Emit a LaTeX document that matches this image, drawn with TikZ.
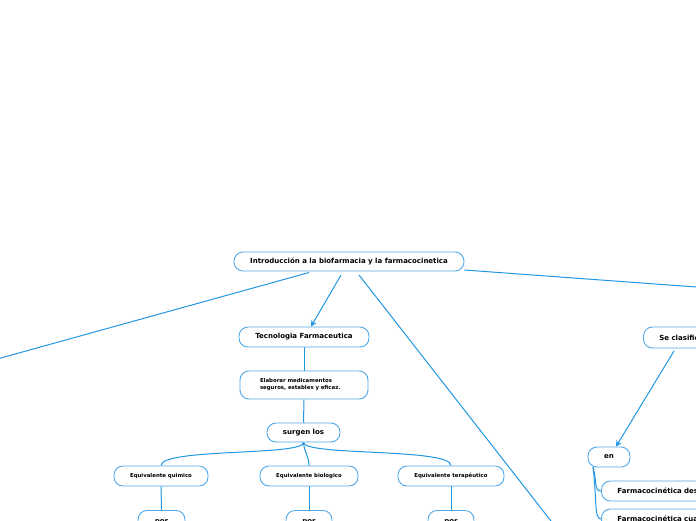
\documentclass[tikz,border=0pt]{standalone}
\usepackage{fontspec}
\setmainfont{DejaVu Sans}
\usetikzlibrary{arrows.meta,backgrounds}
\definecolor{lineblue}{RGB}{33,150,226}
\definecolor{boxblue}{RGB}{80,168,232}
\tikzset{
  box/.style={draw=boxblue, line width=0.9pt, fill=white, rounded corners=9pt, inner sep=0pt, font=\bfseries\fontsize{7}{8}\selectfont, text=black},
  smallbox/.style={box, font=\bfseries\fontsize{5.4}{7}\selectfont},
  leftbox/.style={box, anchor=west, align=left, inner xsep=16pt, text width=130pt},
  conn/.style={draw=lineblue, line width=1pt},
  arr/.style={conn, -{Stealth[length=6pt,width=6pt]}},
}
\begin{document}
\begin{tikzpicture}[x=1pt,y=-1pt]
\useasboundingbox (0,0) rectangle (696,520);
\clip (0,0) rectangle (696,520);
\coordinate (offL) at (-10,361);
\coordinate (offR) at (710,288);
\coordinate (offD) at (558,530);
\node[box, minimum width=230pt, minimum height=19pt] (root) at (349,261.5) {Introducción a la biofarmacia y la farmacocinetica};
\node[box, minimum width=130pt, minimum height=20pt] (tec) at (304,337) {Tecnologia Farmaceutica};
\node[smallbox, minimum height=28pt, align=left, inner xsep=20pt, text width=88pt] (ela) at (304,385) {Elaborar medicamentos\\seguros, estables y eficaz.};
\node[box, minimum width=73pt, minimum height=19pt] (sur) at (303.5,432.5) {surgen los};
\node[smallbox, minimum width=94pt, minimum height=20pt] (eq1) at (161,476) {Equivalente quimico};
\node[smallbox, minimum width=98pt, minimum height=20pt] (eq2) at (309,476) {Equivalente biologico};
\node[smallbox, minimum width=106pt, minimum height=20pt] (eq3) at (451,476) {Equivalente terapéutico};
\node[box, minimum width=47pt, minimum height=24pt] (por1) at (161.5,522.5) {por};
\node[box, minimum width=46pt, minimum height=24pt] (por2) at (309,522.5) {por};
\node[box, minimum width=46pt, minimum height=24pt] (por3) at (451,522.5) {por};
\node[leftbox, minimum height=21pt] (sec) at (643,337.5) {Se clasifica};
\node[box, minimum width=42pt, minimum height=20pt] (en) at (609,457) {en};
\node[leftbox, minimum height=20pt] (f1) at (601,491) {Farmacocinética descriptiva};
\node[leftbox, minimum height=20pt] (f2) at (601,519) {Farmacocinética cuantitativa};
\begin{scope}[on background layer]
\draw[conn] (309,272.5) -- (offL);
\draw[arr] (341,275) -- (tec.north -| 311,0);
\draw[conn] (359,275) -- (offD);
\draw[conn] (root.east |- 0,270) -- (offR);
\draw[arr] (674,351) -- (en.north -| 616,0);
\draw[conn] (tec.south) -- (ela.north);
\draw[conn] (ela.south) -- (sur.north);
\draw[conn] (sur.south) .. controls (304,456) and (161,448) .. (eq1.north);
\draw[conn] (sur.south) .. controls (304,452) and (309,456) .. (eq2.north);
\draw[conn] (sur.south) .. controls (304,456) and (451,448) .. (eq3.north);
\draw[conn] (eq1.south) -- (por1.north);
\draw[conn] (eq2.south) -- (por2.north);
\draw[conn] (eq3.south) -- (por3.north);
\draw[conn] (593,467) .. controls (597,482) and (594,491) .. (f1.west);
\draw[conn] (593,467) .. controls (597,500) and (594,519) .. (f2.west);
\end{scope}
\end{tikzpicture}
\end{document}
